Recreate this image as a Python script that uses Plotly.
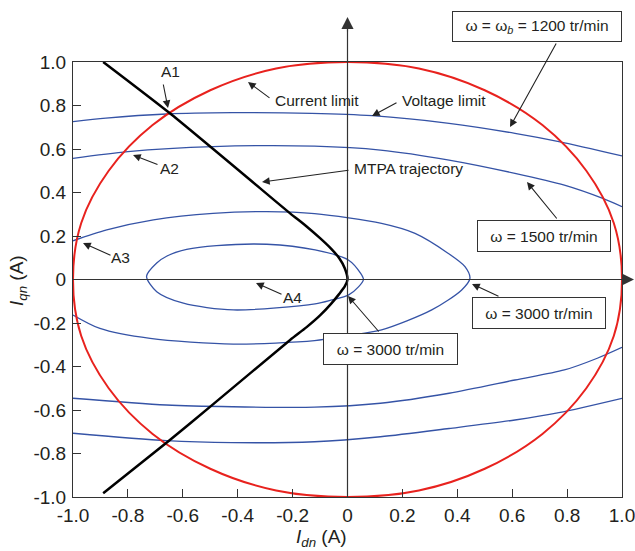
import plotly.graph_objects as go

# ---------------- data ----------------
# current limit (red circle)
circle_x = [1.0, 0.97, 0.87, 0.71, 0.5, 0.26, 0.0, -0.26, -0.5, -0.71, -0.87, -0.97, -1.0,
            -0.97, -0.87, -0.71, -0.5, -0.26, 0.0, 0.26, 0.5, 0.71, 0.87, 0.97, 1.0]
circle_y = [0.0, 0.26, 0.5, 0.71, 0.87, 0.97, 1.0, 0.97, 0.87, 0.71, 0.5, 0.26, 0.0,
            -0.26, -0.5, -0.71, -0.87, -0.97, -1.0, -0.97, -0.87, -0.71, -0.5, -0.26, 0.0]

# voltage limit, 1200 tr/min
v1200_up_x = [-1.0, -0.88, -0.66, -0.42, -0.13, 0.09, 0.37, 0.61, 0.77, 1.0]
v1200_up_y = [0.726, 0.742, 0.761, 0.767, 0.764, 0.753, 0.718, 0.672, 0.634, 0.568]
v1200_lo_x = [-1.0, -0.66, -0.42, -0.12, 0.12, 0.37, 0.61, 0.77, 1.0]
v1200_lo_y = [-0.707, -0.741, -0.750, -0.746, -0.723, -0.685, -0.646, -0.612, -0.546]

# voltage limit, 1500 tr/min
v1500_up_x = [-1.0, -0.80, -0.49, -0.12, 0.12, 0.37, 0.61, 0.79, 0.93, 1.0]
v1500_up_y = [0.557, 0.588, 0.611, 0.613, 0.595, 0.549, 0.488, 0.434, 0.373, 0.335]
v1500_lo_x = [-1.0, -0.66, -0.42, -0.12, 0.12, 0.37, 0.61, 0.79, 0.91, 1.0]
v1500_lo_y = [-0.546, -0.577, -0.585, -0.587, -0.569, -0.523, -0.462, -0.416, -0.362, -0.312]

# voltage limit, 3000 tr/min (outer)
v3000a_x = [-1.0, -0.877, -0.707, -0.49, -0.294, -0.12, 0.124, 0.246, 0.366, 0.428, 0.446,
            0.416, 0.307, 0.124, 0.003, -0.12, -0.416, -0.719, -0.902, -1.0]
v3000a_y = [0.178, 0.228, 0.274, 0.304, 0.312, 0.303, 0.258, 0.212, 0.121, 0.059, 0.005,
            -0.048, -0.14, -0.232, -0.258, -0.281, -0.297, -0.271, -0.225, -0.163]

# voltage limit, 3000 tr/min (inner, closed)
v3000b_x = [-0.732, -0.695, -0.659, -0.586, -0.477, -0.294, -0.118, 0.003, 0.048, 0.058,
            0.040, 0.003, -0.057, -0.118, -0.416, -0.598, -0.695, -0.732]
v3000b_y = [0.015, 0.076, 0.107, 0.138, 0.156, 0.162, 0.136, 0.09, 0.028, 0.0,
            -0.034, -0.072, -0.094, -0.112, -0.14, -0.109, -0.056, 0.015]

# MTPA trajectory
mtpa_x = [-0.89, -0.647, -0.319, -0.209, -0.15, -0.10, -0.06, -0.03, -0.01, 0.0,
          -0.01, -0.03, -0.06, -0.10, -0.15, -0.209, -0.489, -0.647, -0.89]
mtpa_y = [1.0, 0.764, 0.42, 0.304, 0.245, 0.19, 0.142, 0.098, 0.052, 0.0,
          -0.032, -0.066, -0.112, -0.165, -0.22, -0.278, -0.573, -0.738, -0.983]

tick_vals = [-1.0, -0.8, -0.6, -0.4, -0.2, 0.0, 0.2, 0.4, 0.6, 0.8, 1.0]
tick_text = ["-1.0", "-0.8", "-0.6", "-0.4", "-0.2", "0", "0.2", "0.4", "0.6", "0.8", "1.0"]

FONT = "Liberation Sans, Arial, Helvetica, sans-serif"
TXT = "#231f20"
RED = "#e8221e"
BLUE = "#3553a6"

# ---------------- figure ----------------
fig = go.Figure()

blue_sets = [(v1200_up_x, v1200_up_y), (v1200_lo_x, v1200_lo_y),
             (v1500_up_x, v1500_up_y), (v1500_lo_x, v1500_lo_y),
             (v3000a_x, v3000a_y), (v3000b_x, v3000b_y)]
for bx, by in blue_sets:
    fig.add_trace(go.Scatter(x=bx, y=by, mode="lines",
                             line=dict(color=BLUE, width=1.3, shape="spline", smoothing=0.8),
                             hoverinfo="skip"))

fig.add_trace(go.Scatter(x=circle_x, y=circle_y, mode="lines",
                         line=dict(color=RED, width=2, shape="spline", smoothing=1.0),
                         hoverinfo="skip"))
fig.add_trace(go.Scatter(x=mtpa_x, y=mtpa_y, mode="lines",
                         line=dict(color="black", width=2.5, shape="spline", smoothing=0.6),
                         hoverinfo="skip"))

# plot geometry (pixels) used only to place annotations
L, R, T, B = 73, 622, 62, 497


def d(xp, yp):
    """pixel -> data coordinates"""
    return ((xp - L) / (R - L) * 2 - 1, 1 - (yp - T) / (B - T) * 2)


def p(xp, yp):
    """pixel -> paper coordinates"""
    return ((xp - L) / (R - L), (B - yp) / (B - T))


annotations = []

# plain text labels
texts = [("A1", 170, 72, "center"), ("A2", 169, 168, "center"), ("A3", 120, 257, "center"),
         ("A4", 292, 297, "center"), ("Current limit", 273, 100, "left"),
         ("Voltage limit", 400, 100, "left"), ("MTPA trajectory", 352, 168, "left")]
for t, xp, yp, anc in texts:
    px_, py_ = p(xp, yp)
    annotations.append(dict(text=t, x=px_, y=py_, xref="paper", yref="paper",
                            xanchor=anc, yanchor="middle", showarrow=False,
                            font=dict(family=FONT, size=15.5, color=TXT)))

# boxed labels
boxes = [("ω = ω<sub><i>b</i></sub> = 1200 tr/min", 537, 26.5, 168, 29),
         ("ω = 1500 tr/min", 544, 236, 132, 30),
         ("ω = 3000 tr/min", 539, 313, 132, 30),
         ("ω = 3000 tr/min", 390.5, 349, 133, 30)]
for t, xp, yp, w, h in boxes:
    px_, py_ = p(xp, yp)
    annotations.append(dict(text=t, x=px_, y=py_, xref="paper", yref="paper",
                            xanchor="center", yanchor="middle", showarrow=False,
                            width=w, height=h, borderpad=0, bordercolor="#333",
                            borderwidth=1, bgcolor="white",
                            font=dict(family=FONT, size=15.5, color=TXT)))

# axis titles
xt = p(321, 538)
annotations.append(dict(text="<i>I</i><sub><i>dn</i></sub> (A)", x=xt[0], y=xt[1],
                        xref="paper", yref="paper", showarrow=False,
                        xanchor="center", yanchor="middle",
                        font=dict(family=FONT, size=19, color=TXT)))
yt = p(18, 281)
annotations.append(dict(text="<i>I</i><sub><i>qn</i></sub> (A)", x=yt[0], y=yt[1],
                        xref="paper", yref="paper", showarrow=False, textangle=-90,
                        xanchor="center", yanchor="middle",
                        font=dict(family=FONT, size=19, color=TXT)))

# arrows (tail -> head, pixels)
arrows = [((163, 83), (168, 108)), ((271, 99), (248, 82)), ((398, 102), (372, 116)),
          ((350, 170), (262, 182)), ((159, 165), (133, 155)), ((112, 256), (83, 243)),
          ((283, 295), (256, 283)), ((557, 42), (510, 127)), ((558, 220), (527, 182)),
          ((500, 297), (472, 284)), ((380, 333), (348, 296))]
for (tx, ty), (hx, hy) in arrows:
    ax_, ay_ = d(tx, ty)
    hx_, hy_ = d(hx, hy)
    annotations.append(dict(text="", x=hx_, y=hy_, ax=ax_, ay=ay_, xref="x", yref="y",
                            axref="x", ayref="y", showarrow=True, arrowhead=2,
                            arrowsize=1.4, arrowwidth=1.1, arrowcolor="#222"))

# axis arrowheads
annotations.append(dict(text="", x=0, y=p(0, 17)[1], xref="x", yref="paper",
                        ax=0, ay=16, showarrow=True, arrowhead=2, arrowsize=2.2,
                        arrowwidth=1.1, arrowcolor="#333"))
annotations.append(dict(text="", x=p(634, 0)[0], y=0, xref="paper", yref="y",
                        ax=-16, ay=0, showarrow=True, arrowhead=2, arrowsize=2.2,
                        arrowwidth=1.1, arrowcolor="#333"))

shapes = [
    dict(type="line", xref="x", yref="paper", x0=0, x1=0, y0=0, y1=p(0, 25)[1],
         line=dict(color="#333", width=1.2)),
    dict(type="line", xref="paper", yref="y", x0=0, x1=p(625, 0)[0], y0=0, y1=0,
         line=dict(color="#333", width=1.2)),
]

axis_common = dict(range=[-1, 1], tickvals=tick_vals, ticktext=tick_text, ticks="inside",
                   ticklen=8, tickwidth=1, tickcolor="#333", showline=True,
                   linecolor="#333", linewidth=1, mirror=True, showgrid=False,
                   zeroline=False, ticklabeloverflow="allow", automargin=False,
                   tickfont=dict(family=FONT, size=19, color=TXT))

fig.update_layout(
    width=635, height=551,
    margin=dict(l=L, r=635 - R, t=T, b=551 - B, autoexpand=False),
    plot_bgcolor="white", paper_bgcolor="white",
    showlegend=False,
    xaxis=dict(**axis_common, ticklabelstandoff=1),
    yaxis=dict(**axis_common, ticklabelstandoff=2),
    annotations=annotations,
    shapes=shapes,
)

fig.write_html("out.html")
